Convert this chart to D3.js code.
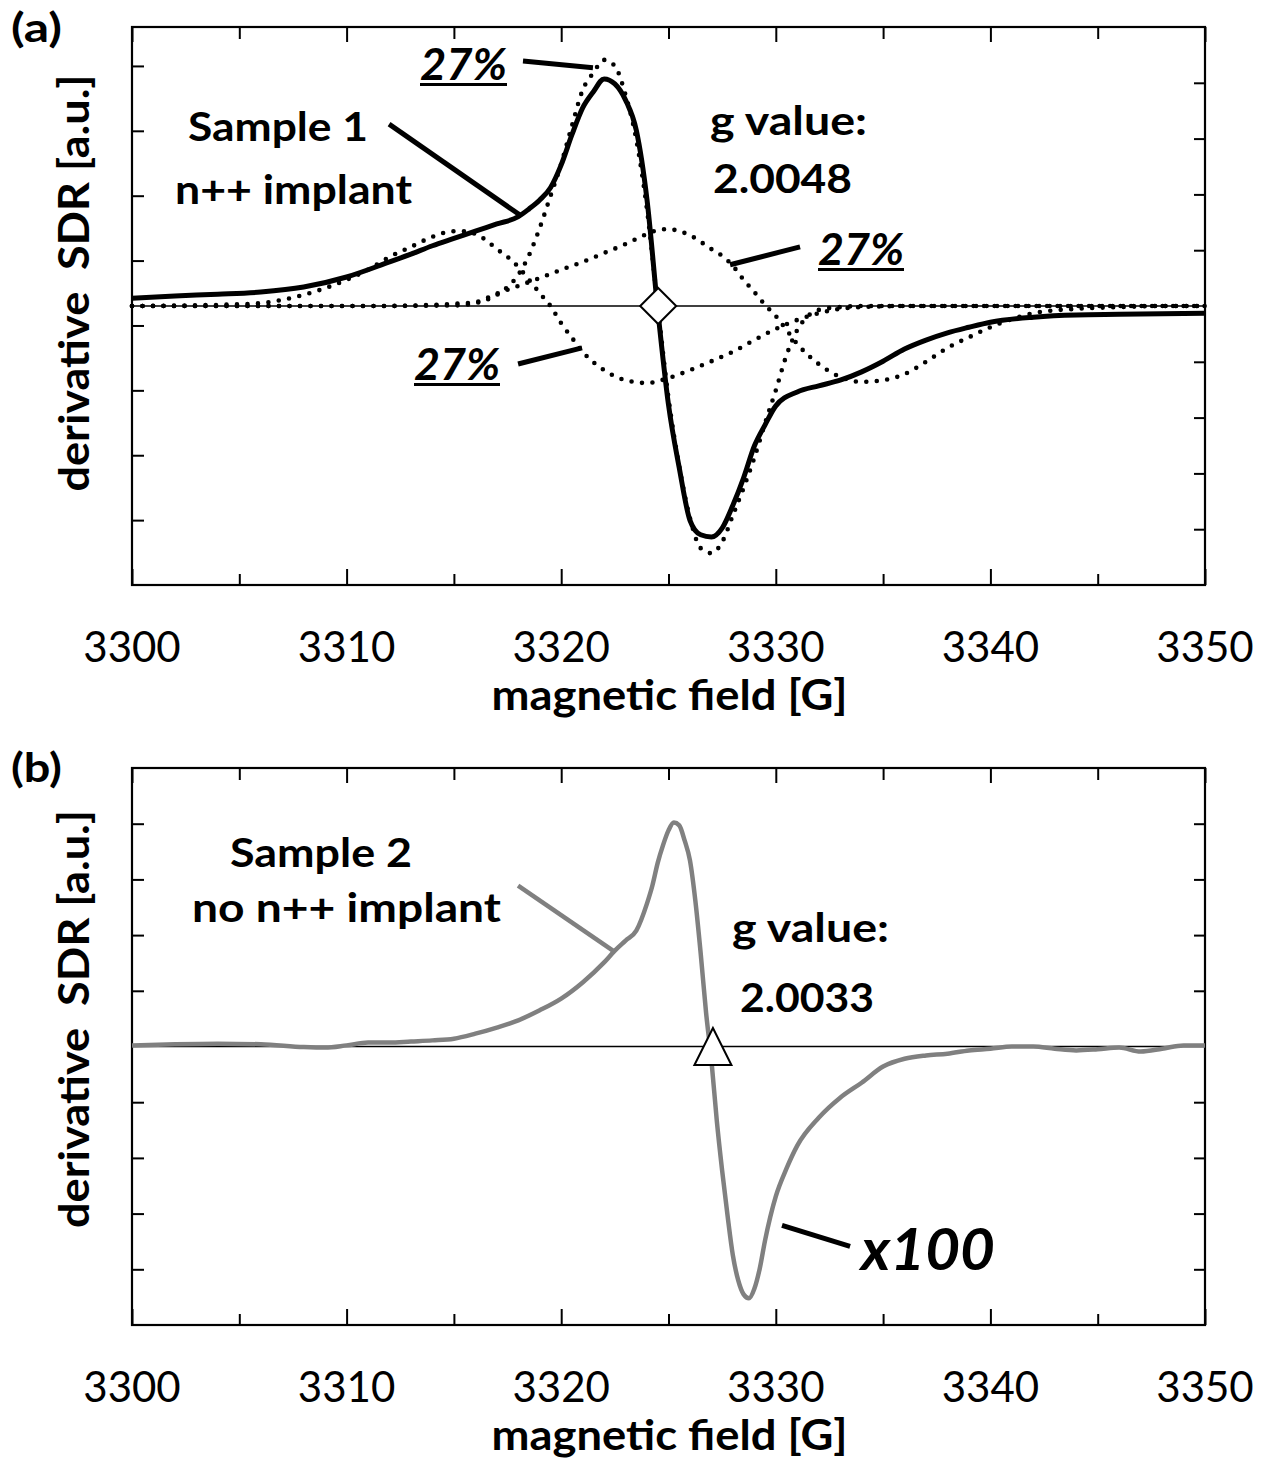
<!DOCTYPE html>
<html><head><meta charset="utf-8">
<script src="https://cdn.jsdelivr.net/npm/d3@7"></script>
<style>
body{margin:0;background:#fff;}
svg{display:block;font-family:Lato,"Open Sans",sans-serif;}
</style></head><body>
<svg id="chart" width="1268" height="1460"></svg>
<script>
// ---------- data ----------
const fieldTicks = [3300, 3310, 3320, 3330, 3340, 3350];
const fieldMinorTicks = [3305, 3315, 3325, 3335, 3345];
const tickLabels = ["3300", "3310", "3320", "3330", "3340", "3350"];
const xTitle = "magnetic field [G]";
const yTitle = "derivative  SDR [a.u.]";

// panel (a): Sample 1, measured spectrum (solid)
const s1Field = [3300,3302,3304,3306,3308,3310,3312,3313,3314,3315,3316,3317,3318,3318.5,3319,3319.5,3320,3320.5,3321,3321.5,3322,3322.5,3323,3323.5,3324,3324.5,3325,3325.5,3326,3326.5,3327,3327.5,3328,3328.5,3329,3329.5,3330,3331,3332,3333,3334,3335,3336,3337,3338,3339,3340,3342,3344,3346,3348,3350];
const s1Value = [0.14,0.18,0.21,0.25,0.34,0.52,0.79,0.93,1.08,1.21,1.34,1.47,1.60,1.74,1.90,2.12,2.53,3.07,3.55,3.84,4.07,3.98,3.69,3.15,1.90,-0.07,-1.77,-2.90,-3.84,-4.10,-4.14,-3.98,-3.57,-3.08,-2.51,-2.13,-1.79,-1.54,-1.43,-1.33,-1.18,-0.99,-0.77,-0.61,-0.48,-0.38,-0.29,-0.20,-0.16,-0.15,-0.14,-0.13];

// component 1 (narrow, dotted)
const c1Field = [3300,3310,3315,3316,3317,3317.5,3318,3318.5,3319,3319.5,3320,3320.5,3321,3321.5,3322,3322.5,3323,3323.5,3324,3324.5,3325,3325.5,3326,3326.5,3327,3327.5,3328,3328.5,3329,3329.5,3330,3330.5,3331,3331.5,3332,3333,3334,3350];
const c1Value = [0,0,0.01,0.05,0.20,0.34,0.56,0.91,1.40,1.97,2.55,3.23,3.87,4.18,4.41,4.30,3.78,2.98,1.72,0,-1.65,-2.87,-3.80,-4.34,-4.43,-4.23,-3.75,-3.26,-2.72,-2.10,-1.51,-0.88,-0.43,-0.18,-0.07,-0.02,0,0];

// component 2 (broad, low field, dotted)
const c2Field = [3300,3304,3306,3307,3308,3309,3310,3311,3312,3313,3314,3315,3315.5,3316,3316.5,3317,3317.5,3318,3318.5,3319,3319.5,3320,3320.5,3321,3322,3323,3324,3325,3326,3327,3328,3329,3330,3331,3332,3333,3334,3336,3350];
const c2Value = [0,0.02,0.05,0.11,0.20,0.32,0.47,0.65,0.88,1.06,1.24,1.34,1.34,1.29,1.18,1.02,0.88,0.70,0.47,0.23,0,-0.31,-0.57,-0.82,-1.15,-1.33,-1.38,-1.29,-1.15,-0.99,-0.82,-0.61,-0.41,-0.25,-0.13,-0.05,-0.02,0,0];

// component 3 (broad, high field, dotted)
const c3Field = [3300,3312,3314,3315,3316,3317,3318,3319,3320,3321,3322,3323,3324,3324.5,3325,3325.5,3326,3326.5,3327,3327.5,3328,3328.5,3329,3329.5,3330,3330.5,3331,3332,3333,3334,3335,3336,3337,3338,3339,3340,3342,3344,3346,3348,3350];
const c3Value = [0,0,0.02,0.04,0.07,0.22,0.36,0.50,0.65,0.79,0.95,1.11,1.29,1.36,1.38,1.34,1.27,1.15,1.02,0.90,0.72,0.47,0.25,0.02,-0.18,-0.43,-0.68,-1.04,-1.27,-1.36,-1.33,-1.22,-1.00,-0.75,-0.56,-0.38,-0.13,-0.05,-0.02,0,0];

// panel (b): Sample 2 (x100, grey)
const s2Field = [3300,3302,3304,3306,3308,3309,3310,3311,3312,3313,3314,3315,3316,3317,3318,3319,3320,3321,3322,3322.5,3323,3323.5,3324,3324.25,3324.5,3324.75,3325,3325.25,3325.5,3325.75,3326,3326.25,3326.5,3326.75,3327,3327.25,3327.5,3327.75,3328,3328.25,3328.5,3328.75,3329,3329.25,3329.5,3330,3330.5,3331,3332,3333,3334,3335,3336,3337,3338,3339,3340,3341,3342,3343,3344,3345,3346,3347,3348,3349,3350];
const s2Value = [0.02,0.04,0.05,0.04,-0.01,-0.02,0.02,0.07,0.07,0.09,0.11,0.14,0.23,0.34,0.47,0.65,0.86,1.15,1.51,1.72,1.90,2.08,2.57,2.89,3.30,3.62,3.88,4.02,3.97,3.70,3.34,2.62,1.67,0.61,-0.25,-1.33,-2.23,-3.03,-3.75,-4.20,-4.45,-4.52,-4.35,-3.99,-3.48,-2.69,-2.19,-1.78,-1.28,-0.92,-0.65,-0.36,-0.22,-0.16,-0.13,-0.07,-0.04,0,0,-0.04,-0.07,-0.05,-0.02,-0.09,-0.04,0.02,0.02];

// g-value markers (field, value)
const gMarkerA = [3324.52, 0];
const gMarkerB = [3327.07, 0];

// leader lines in data units [[field, value],[field, value]]
const leadersA = [
  [[3311.98, 3.26], [3318.08, 1.63]],
  [[3318.22, 4.39], [3321.48, 4.27]],
  [[3327.87, 0.74], [3331.13, 1.06]],
  [[3317.99, -1.04], [3320.97, -0.75]]
];
const leadersBGrey = [[[3317.99, 2.89], [3322.41, 1.72]]];
const leadersBBlack = [[[3330.29, -3.21], [3333.46, -3.59]]];

// tick values of the unlabeled value axes
const aLeftTicks = [-3.3, -2.3, -1.3, -0.3, 0.7, 1.7, 2.7, 3.7];
const aRightTicks = [-4, -3, -2, -1, 1, 2, 3, 4];
const bTicks = [-4, -3, -2, -1, 1, 2, 3, 4];

// ---------- drawing ----------
const svg = d3.select("#chart");
const X0 = 132, X1 = 1205;
const x = d3.scaleLinear().domain([3300, 3350]).range([X0, X1]);
const zip = (f, v) => f.map((d, i) => [d, v[i]]);

function frame(g, top, bottom, yLeft, leftTicks, yRight, rightTicks) {
  const add = (axis, tr) => {
    const s = g.append("g").attr("transform", tr).call(axis);
    s.select(".domain").remove();
    s.selectAll(".tick line").attr("stroke", "#000").attr("stroke-width", 2);
    s.selectAll(".tick text").remove();
  };
  add(d3.axisBottom(x).tickValues(fieldTicks).tickSize(-16), `translate(0,${bottom})`);
  add(d3.axisBottom(x).tickValues(fieldMinorTicks).tickSize(-11), `translate(0,${bottom})`);
  add(d3.axisTop(x).tickValues(fieldTicks).tickSize(-15), `translate(0,${top})`);
  add(d3.axisTop(x).tickValues(fieldMinorTicks).tickSize(-12), `translate(0,${top})`);
  add(d3.axisLeft(yLeft).tickValues(leftTicks).tickSize(-12), `translate(${X0},0)`);
  add(d3.axisRight(yRight).tickValues(rightTicks).tickSize(-11), `translate(${X1},0)`);
  g.append("rect").attr("x", X0).attr("y", top).attr("width", X1 - X0).attr("height", bottom - top)
    .attr("fill", "none").attr("stroke", "#000").attr("stroke-width", 2.2);
  g.selectAll("text.tl").data(fieldTicks).join("text").attr("class", "tl")
    .attr("x", d => x(d)).attr("y", bottom + 77).attr("text-anchor", "middle")
    .attr("font-size", 42).attr("fill", "#000").text((d, i) => tickLabels[i]);
  g.append("text").attr("x", (X0 + X1) / 2 + 1).attr("y", bottom + 125).attr("text-anchor", "middle")
    .attr("font-size", 42).attr("font-weight", "bold").attr("textLength", 356)
    .attr("lengthAdjust", "spacingAndGlyphs").text(xTitle);
}

function yTitleAt(g, cy, len) {
  g.append("text").attr("transform", `translate(89,${cy}) rotate(-90)`).attr("text-anchor", "middle")
    .attr("font-size", 42).attr("font-weight", "bold").style("white-space", "pre")
    .attr("textLength", len).attr("lengthAdjust", "spacingAndGlyphs").text(yTitle);
}

function label(g, a) {
  const t = g.append("text").attr("x", a.x).attr("y", a.y).attr("font-size", a.size)
    .attr("font-weight", "bold").attr("font-style", a.italic ? "italic" : "normal")
    .attr("fill", "#000").text(a.text);
  if (a.w) t.attr("textLength", a.w).attr("lengthAdjust", "spacingAndGlyphs");
  if (a.underline) g.append("line").attr("x1", a.x).attr("x2", a.x + a.w)
    .attr("y1", a.y + 4.5).attr("y2", a.y + 4.5).attr("stroke", "#000").attr("stroke-width", 3);
}

function leaders(g, list, y, color, w) {
  g.selectAll(null).data(list).join("line")
    .attr("x1", d => x(d[0][0])).attr("y1", d => y(d[0][1]))
    .attr("x2", d => x(d[1][0])).attr("y2", d => y(d[1][1]))
    .attr("stroke", color).attr("stroke-width", w).attr("stroke-linecap", "butt");
}

// ---- panel (a)
{
  const top = 27, bottom = 585;
  const g = svg.append("g");
  const y = d3.scaleLinear().domain([-5, 5]).range([bottom, top]);
  const yL = d3.scaleLinear().domain([-4.3, 4.3]).range([bottom, top]);
  frame(g, top, bottom, yL, aLeftTicks, y, aRightTicks);
  g.append("line").attr("x1", X0).attr("x2", X1).attr("y1", y(0)).attr("y2", y(0))
    .attr("stroke", "#000").attr("stroke-width", 1.6);
  const line = d3.line().x(d => x(d[0])).y(d => y(d[1])).curve(d3.curveMonotoneX);
  [[c2Field, c2Value], [c3Field, c3Value], [c1Field, c1Value]].forEach(([f, v]) => {
    g.append("path").attr("d", line(zip(f, v))).attr("fill", "none").attr("stroke", "#000")
      .attr("stroke-width", 4.6).attr("stroke-linecap", "round").attr("stroke-dasharray", "0 10.5");
  });
  g.append("path").attr("d", line(zip(s1Field, s1Value))).attr("fill", "none")
    .attr("stroke", "#000").attr("stroke-width", 5).attr("stroke-linejoin", "round");
  const cx = x(gMarkerA[0]), cy = y(gMarkerA[1]), r = 18;
  g.append("path").attr("d", `M${cx},${cy - r}L${cx + r},${cy}L${cx},${cy + r}L${cx - r},${cy}Z`)
    .attr("fill", "#fff").attr("stroke", "#000").attr("stroke-width", 2);
  leaders(g, leadersA, y, "#000", 5);
  [
    {text: "(a)", x: 11, y: 42, size: 40, w: 51},
    {text: "Sample 1", x: 188, y: 141, size: 40, w: 180},
    {text: "n++ implant", x: 175, y: 204, size: 40, w: 237},
    {text: "g value:", x: 710, y: 135, size: 40, w: 157},
    {text: "2.0048", x: 713, y: 193, size: 40, w: 139},
    {text: "27%", x: 420, y: 80, size: 44, w: 87, italic: true, underline: true},
    {text: "27%", x: 818, y: 265, size: 44, w: 86, italic: true, underline: true},
    {text: "27%", x: 414, y: 380, size: 44, w: 86, italic: true, underline: true}
  ].forEach(a => label(g, a));
  yTitleAt(g, 283, 417);
}

// ---- panel (b)
{
  const top = 768, bottom = 1325;
  const g = svg.append("g");
  const y = d3.scaleLinear().domain([-5, 5]).range([bottom, top]);
  frame(g, top, bottom, y, bTicks, y, bTicks);
  g.append("line").attr("x1", X0).attr("x2", X1).attr("y1", y(0)).attr("y2", y(0))
    .attr("stroke", "#000").attr("stroke-width", 1.6);
  const line = d3.line().x(d => x(d[0])).y(d => y(d[1])).curve(d3.curveMonotoneX);
  g.append("path").attr("d", line(zip(s2Field, s2Value))).attr("fill", "none")
    .attr("stroke", "#808080").attr("stroke-width", 4.5).attr("stroke-linejoin", "round");
  const cx = x(gMarkerB[0]), cy = y(gMarkerB[1]), h = 18.5;
  g.append("path").attr("d", `M${cx},${cy - h}L${cx + h},${cy + h}L${cx - h},${cy + h}Z`)
    .attr("fill", "#fff").attr("stroke", "#000").attr("stroke-width", 2);
  leaders(g, leadersBGrey, y, "#808080", 4.5);
  leaders(g, leadersBBlack, y, "#000", 5);
  [
    {text: "(b)", x: 11, y: 782, size: 40, w: 51},
    {text: "Sample 2", x: 230, y: 867, size: 40, w: 182},
    {text: "no n++ implant", x: 192, y: 922, size: 40, w: 309},
    {text: "g value:", x: 732, y: 942, size: 40, w: 157},
    {text: "2.0033", x: 740, y: 1012, size: 40, w: 134},
    {text: "x100", x: 861, y: 1270, size: 58, w: 134, italic: true}
  ].forEach(a => label(g, a));
  yTitleAt(g, 1019, 418);
}
</script>
</body></html>
